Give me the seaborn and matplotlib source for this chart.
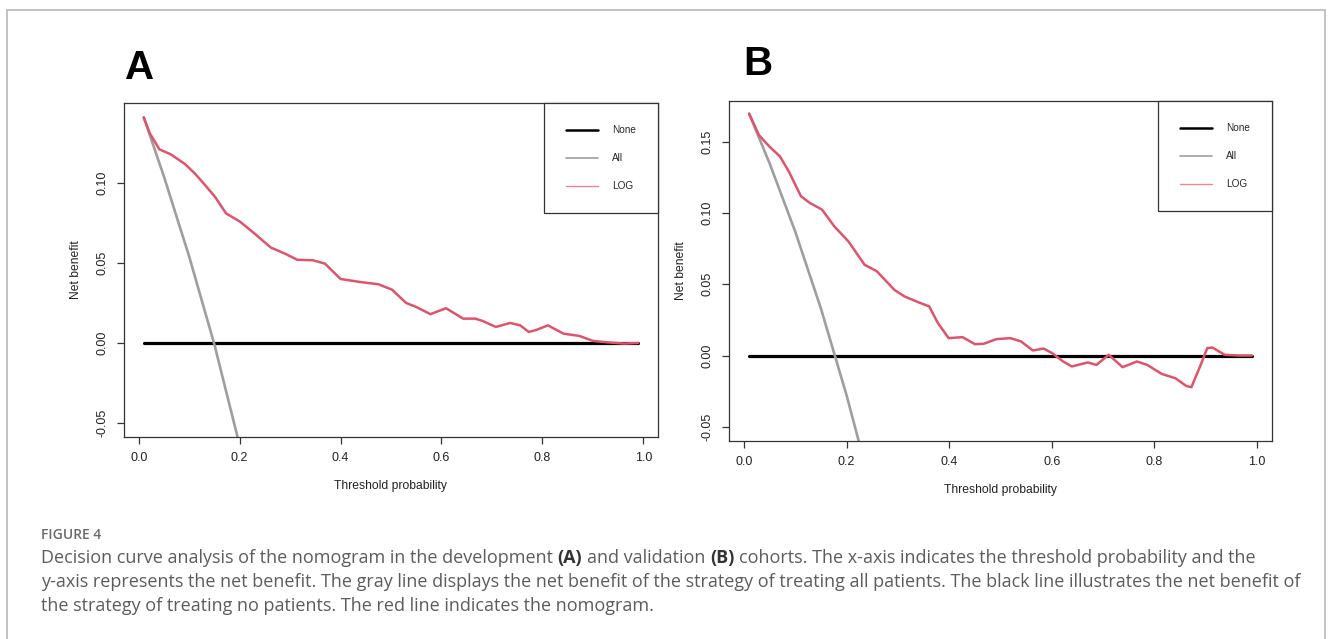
import numpy as np
import pandas as pd
import matplotlib
matplotlib.use('Agg')
import matplotlib.pyplot as plt
from matplotlib.lines import Line2D
from matplotlib.patches import Rectangle
import seaborn as sns

# ---- data ----
# panel A (development cohort)
a_t = [0.01, 0.022, 0.041, 0.063, 0.091, 0.111, 0.132, 0.152, 0.173, 0.200,
       0.231, 0.262, 0.290, 0.314, 0.345, 0.369, 0.400, 0.441, 0.475, 0.502,
       0.530, 0.550, 0.578, 0.609, 0.643, 0.667, 0.681, 0.708, 0.736, 0.756,
       0.773, 0.787, 0.811, 0.842, 0.873, 0.900, 0.928, 0.962, 0.99]
a_log = [0.141, 0.131, 0.121, 0.118, 0.112, 0.106, 0.0985, 0.091, 0.081, 0.0760,
         0.068, 0.0596, 0.0558, 0.052, 0.0517, 0.0496, 0.040, 0.038, 0.0367, 0.0333,
         0.025, 0.0225, 0.018, 0.0217, 0.0152, 0.0152, 0.0138, 0.010, 0.0125, 0.011,
         0.0069, 0.008, 0.011, 0.0058, 0.0044, 0.0013, 0.0004, -0.0004, 0.0]
a_all_t = [0.01, 0.05, 0.10, 0.15, 0.20]
a_all = [0.141, 0.104, 0.054, -0.001, -0.064]

# panel B (validation cohort)
b_t = [0.01, 0.029, 0.050, 0.070, 0.087, 0.111, 0.128, 0.152, 0.176, 0.204,
       0.235, 0.259, 0.293, 0.313, 0.341, 0.361, 0.378, 0.399, 0.426, 0.450,
       0.467, 0.492, 0.519, 0.540, 0.563, 0.584, 0.601, 0.622, 0.639, 0.670,
       0.687, 0.711, 0.738, 0.766, 0.786, 0.814, 0.841, 0.862, 0.872, 0.889,
       0.903, 0.913, 0.937, 0.964, 0.99]
b_log = [0.170, 0.155, 0.1467, 0.140, 0.1296, 0.112, 0.1073, 0.1026, 0.0908, 0.080,
         0.0638, 0.0592, 0.0462, 0.0415, 0.0373, 0.0345, 0.0228, 0.0122, 0.0129, 0.008,
         0.0082, 0.0115, 0.0122, 0.0099, 0.0035, 0.0049, 0.0016, -0.0042, -0.0077, -0.0049,
         -0.0066, 0.0005, -0.0082, -0.0042, -0.0066, -0.0129, -0.016, -0.0214, -0.0223, -0.0077,
         0.0052, 0.0056, 0.0005, 0.0, 0.0]
b_all_t = [0.01, 0.05, 0.10, 0.15, 0.20, 0.25]
b_all = [0.170, 0.135, 0.087, 0.033, -0.028, -0.096]

none_t = [0.01, 0.99]
none_nb = [0.0, 0.0]

legend_labels = ["None", "All", "LOG"]
x_ticks = [0.0, 0.2, 0.4, 0.6, 0.8, 1.0]
a_yticks = [-0.05, 0.00, 0.05, 0.10]
b_yticks = [-0.05, 0.00, 0.05, 0.10, 0.15]

caption_head = "FIGURE 4"
caption_lines = [
    [("Decision curve analysis of the nomogram in the development ", "normal"), ("(A)", "bold"),
     (" and validation ", "normal"), ("(B)", "bold"),
     (" cohorts. The x-axis indicates the threshold probability and the", "normal")],
    [("y-axis represents the net benefit. The gray line displays the net benefit of the strategy "
      "of treating all patients. The black line illustrates the net benefit of", "normal")],
    [("the strategy of treating no patients. The red line indicates the nomogram.", "normal")],
]

RED = "#DF536B"
GRAY = "#9E9E9E"

W, H = 1330, 639

sns.set_style("ticks")
plt.rcParams['font.family'] = ['Liberation Sans', 'DejaVu Sans']

fig = plt.figure(figsize=(W / 100, H / 100), dpi=100)


def px_rect(l, t, r, b):
    return [l / W, 1 - b / H, (r - l) / W, (b - t) / H]


def draw_panel(rect, t, log, all_t, all_nb, yticks, ylim, letter, letter_xy):
    ax = fig.add_axes(px_rect(*rect))
    sns.lineplot(x=none_t, y=none_nb, ax=ax, color="black", linewidth=2.3,
                 estimator=None, sort=False)
    sns.lineplot(x=all_t, y=all_nb, ax=ax, color=GRAY, linewidth=1.9,
                 estimator=None, sort=False)
    sns.lineplot(x=t, y=log, ax=ax, color=RED, linewidth=1.8,
                 estimator=None, sort=False)
    for ln in ax.lines:
        ln.set_solid_joinstyle("round")
        ln.set_solid_capstyle("round")
    ax.set_xlim(-0.0292, 1.0292)
    ax.set_ylim(*ylim)
    ax.set_xticks(x_ticks)
    ax.set_xticklabels([f"{v:.1f}" for v in x_ticks], fontsize=9, color="#222222")
    ax.set_yticks(yticks)
    ax.set_yticklabels([f"{v:.2f}" for v in yticks], fontsize=9, color="#222222",
                       rotation=90, va="center")
    ax.tick_params(axis='both', direction='out', length=5, width=0.9, color="#333333")
    ax.tick_params(axis='x', pad=6)
    ax.tick_params(axis='y', pad=6.5)
    for s in ax.spines.values():
        s.set_visible(True)
        s.set_color("#333333")
        s.set_linewidth(0.9)
    ax.set_xlabel("Threshold probability", fontsize=8.7, color="#222222", labelpad=11)
    ax.set_ylabel("Net benefit", fontsize=8.7, color="#222222", labelpad=10)

    handles = [Line2D([], [], color="black", linewidth=1.8),
               Line2D([], [], color=GRAY, linewidth=1.2),
               Line2D([], [], color=RED, linewidth=1.0, alpha=0.7)]
    leg = ax.legend(handles, legend_labels, loc="upper right", borderaxespad=0,
                    fontsize=7.2, handlelength=3.2, handletextpad=1.4, borderpad=2.2,
                    labelspacing=1.8, fancybox=False, framealpha=1, edgecolor="#333333")
    leg.get_frame().set_linewidth(0.9)

    fig.text(letter_xy[0] / W, 1 - letter_xy[1] / H, letter, fontsize=29,
             fontweight="bold", family=['Liberation Sans', 'DejaVu Sans'],
             ha="center", va="center", color="black")
    return ax


draw_panel((124, 103, 658, 437), a_t, a_log, a_all_t, a_all, a_yticks,
           (-0.0588, 0.15), "A", (140, 68))
draw_panel((729, 101, 1272, 441), b_t, b_log, b_all_t, b_all, b_yticks,
           (-0.0601, 0.1789), "B", (758, 64))

# outer frame of the figure panel
fig.add_artist(Rectangle((7 / W, -0.1), (1325 - 7) / W, 1.1 - 10 / H,
                         transform=fig.transFigure, fill=False,
                         edgecolor="#b8b8b8", linewidth=1.2))

# caption
renderer = fig.canvas.get_renderer()
cap_font = ['Open Sans', 'DejaVu Sans']


def text_width(s, size, weight):
    t = fig.text(0, 0, s, fontsize=size, fontweight=weight, family=cap_font)
    w = t.get_window_extent(renderer).width
    t.remove()
    return w


def line_width(parts, size):
    sp = text_width("a a", size, "normal") - text_width("aa", size, "normal")
    total = 0
    for s, wt in parts:
        core = s.strip()
        n_sp = len(s) - len(s.lstrip()) + len(s) - len(s.rstrip())
        total += text_width(core, size, wt) + n_sp * sp
    return total


# fit the first caption line to its width in the picture
cap_size = 12 * 1207 / line_width(caption_lines[0], 12)
space_w = text_width("a a", cap_size, "normal") - text_width("aa", cap_size, "normal")

fig.text(41 / W, 1 - 535 / H, caption_head, fontsize=10, fontweight="semibold",
         family=cap_font, color="#6a6a6a", ha="left", va="center")

for i, parts in enumerate(caption_lines):
    y = 558 + i * 24
    x = 41
    for s, wt in parts:
        lead = len(s) - len(s.lstrip())
        trail = len(s) - len(s.rstrip())
        x += lead * space_w
        core = s.strip()
        t = fig.text(x / W, 1 - y / H, core, fontsize=cap_size, fontweight=wt,
                     family=cap_font, color="#333333" if wt == "bold" else "#5c5c5c",
                     ha="left", va="center")
        x += t.get_window_extent(renderer).width + trail * space_w

fig.savefig("out.png", dpi=100, facecolor="white")
